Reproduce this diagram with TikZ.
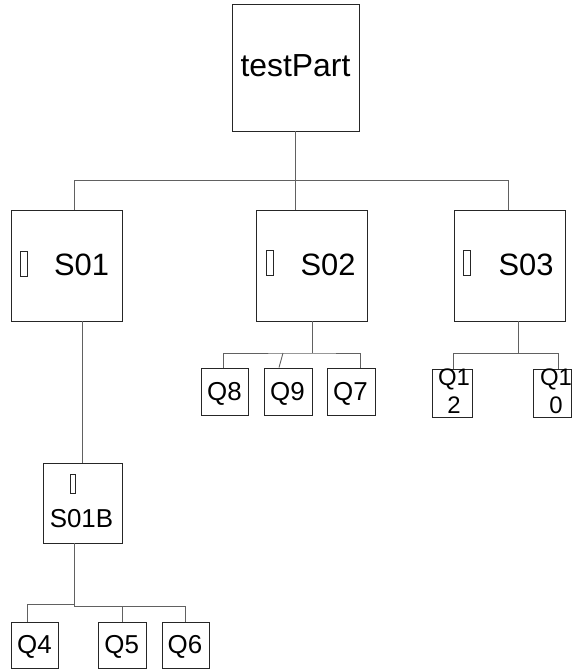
\documentclass[tikz,border=0pt]{standalone}
\usepackage{fontspec}
\setmainfont{Liberation Sans}
\begin{document}
\begin{tikzpicture}[x=1bp,y=-1bp,
  box/.style={draw=black!85,line width=0.9bp,inner sep=0pt,fill=white},
  wire/.style={draw=black!62,line width=0.9bp},
  big/.style={inner sep=0pt,anchor=base,font=\fontsize{31}{37}\selectfont},
  mid/.style={inner sep=0pt,anchor=base,font=\fontsize{26}{31}\selectfont},
  small/.style={inner sep=0pt,anchor=base,align=center,font=\fontsize{24}{28}\selectfont},
  tofu/.style={draw=black!85,line width=0.8bp,inner sep=0pt,minimum width=6.5bp,minimum height=25bp},
  tofusm/.style={tofu,minimum width=5bp,minimum height=19bp}]
\useasboundingbox (0,0) rectangle (572,670);

% boxes
\node[box,minimum width=127bp,minimum height=127bp] (tp) at (295.5,67.5) {};
\node[box,minimum width=111bp,minimum height=111bp] (s01) at (66.5,265.5) {};
\node[box,minimum width=111bp,minimum height=111bp] (s02) at (311.5,265.5) {};
\node[box,minimum width=111bp,minimum height=110.5bp] (s03) at (509.5,265.75) {};
\node[box,minimum width=79bp,minimum height=80bp] (s01b) at (82.5,503) {};
\node[box,minimum width=47bp,minimum height=47.5bp] (q8) at (224.5,391.75) {};
\node[box,minimum width=48bp,minimum height=47.5bp] (q9) at (288,391.75) {};
\node[box,minimum width=48.5bp,minimum height=47.5bp] (q7) at (351.25,391.75) {};
\node[box,minimum width=40bp,minimum height=48bp] (q12) at (452.5,393) {};
\node[box,minimum width=38.5bp,minimum height=48bp] (q10) at (552.25,393) {};
\node[box,minimum width=47bp,minimum height=46bp] (q4) at (34.5,645) {};
\node[box,minimum width=48bp,minimum height=46bp] (q5) at (122,645) {};
\node[box,minimum width=47bp,minimum height=46bp] (q6) at (185.5,645) {};

% labels
\node[big,font=\fontsize{32}{38}\selectfont] (tpl) at (295.5,77) {testPart};
\node[tofu] (t1) at (24,263.5) {};
\node[big] (s01l) at (81.5,275.5) {S01};
\node[tofu] (t2) at (270,263) {};
\node[big] (s02l) at (328,275.5) {S02};
\node[tofu] (t3) at (467,262.5) {};
\node[big] (s03l) at (526,275.5) {S03};
\node[tofusm] (t4) at (72.5,483.5) {};
\node[mid] (s01bl) at (81.5,527) {S01B};
\node[mid] (q8l) at (224.5,400) {Q8};
\node[mid] (q9l) at (287.5,400) {Q9};
\node[mid] (q7l) at (350.5,400) {Q7};
\node[mid] (q4l) at (34.5,653) {Q4};
\node[mid] (q5l) at (121.7,653) {Q5};
\node[mid] (q6l) at (185,653) {Q6};
\node[small] (q12l) at (454,413) {Q1\\2};
\node[small] (q10l) at (556,413) {Q1\\0};

% connectors, top level
\coordinate (busL) at (74,180);
\coordinate (busR) at (508,180);
\draw[wire] (tp.south) -- (tp.south |- s02.north);
\draw[wire] (busL |- s01.north) -- (busL) -- (busR) -- (busR |- s03.north);

% S01 -> S01B -> Q4, Q5, Q6
\draw[wire] (s01b.north) -- (s01b.north |- s01.south);
\coordinate (j3) at (74,606);
\coordinate (j3b) at (74,604.5);
\draw[wire] (j3 |- s01b.south) -- (j3) -- (q6.north |- j3) -- (q6.north);
\draw[wire] (q5.north) -- (q5.north |- j3);
\draw[wire] (j3b) -| ([xshift=-7.5bp]q4.north);

% S02 -> Q8, Q9, Q7
\coordinate (j2) at (312,353);
\draw[wire] (j2 |- s02.south) -- (j2);
\draw[wire] ([xshift=-1.5bp]q8.north) |- (j2) -| ([xshift=8.75bp]q7.north);
\draw[wire] ([xshift=-9bp]q9.north) -- ([xshift=-5bp]q9.north |- j2);

% S03 -> Q12, Q10
\coordinate (j4) at (518,353);
\draw[wire] (j4 |- s03.south) -- (j4);
\draw[wire] ([xshift=1bp]q12.north) |- (j4);
\draw[wire] (j4) -| ([xshift=6.5bp]q10.north);
\end{tikzpicture}
\end{document}
